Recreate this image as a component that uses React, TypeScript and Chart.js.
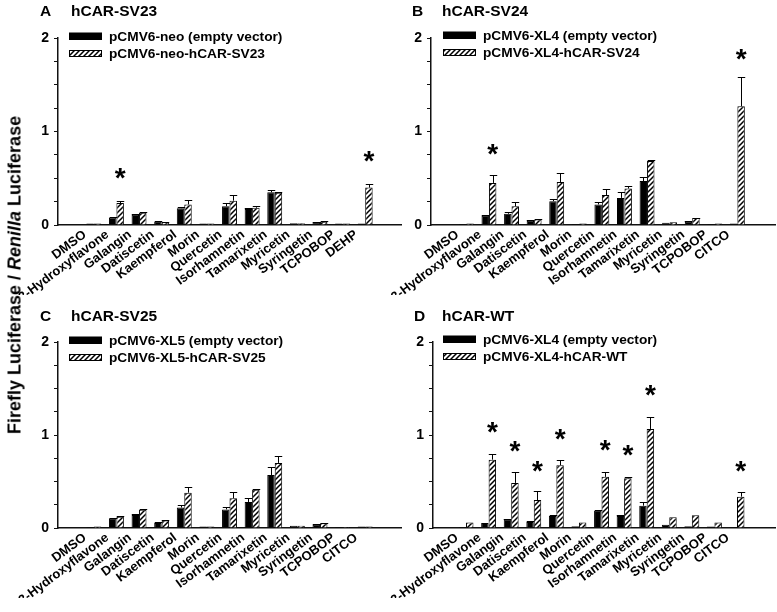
import React, { useEffect, useRef } from 'react';
import { Chart, registerables } from 'chart.js';
Chart.register(...registerables);

const FONT = '"Liberation Sans", Arial, Helvetica, sans-serif';

// ---- categories ----
const labelsA = ['DMSO', '3-Hydroxyflavone', 'Galangin', 'Datiscetin', 'Kaempferol', 'Morin', 'Quercetin', 'Isorhamnetin', 'Tamarixetin', 'Myricetin', 'Syringetin', 'TCPOBOP', 'DEHP'];
const labelsBCD = ['DMSO', '3-Hydroxyflavone', 'Galangin', 'Datiscetin', 'Kaempferol', 'Morin', 'Quercetin', 'Isorhamnetin', 'Tamarixetin', 'Myricetin', 'Syringetin', 'TCPOBOP', 'CITCO'];

// ---- y ticks ----
const yTickValues = [0, 0.25, 0.5, 0.75, 1, 1.25, 1.5, 1.75, 2];
const yTickLabels = [0, 1, 2];

// ---- Panel A: hCAR-SV23 ----
const emptyA = [0.015, 0.08, 0.11, 0.035, 0.18, 0.015, 0.2, 0.17, 0.35, 0.02, 0.03, 0.015, 0.015];
const emptyAErr = [0, 0.01, 0.01, 0.005, 0.01, 0, 0.03, 0.01, 0.02, 0, 0.005, 0, 0];
const carA = [0.015, 0.235, 0.13, 0.03, 0.22, 0.015, 0.26, 0.185, 0.345, 0.02, 0.035, 0.015, 0.4];
const carAErr = [0, 0.02, 0.01, 0.005, 0.045, 0, 0.06, 0.015, 0.01, 0, 0.005, 0, 0.035];
const starsA = [null, 0.55, null, null, null, null, null, null, null, null, null, null, 0.73];

// ---- Panel B: hCAR-SV24 ----
const emptyB = [0.01, 0.1, 0.12, 0.045, 0.255, 0.01, 0.22, 0.29, 0.47, 0.025, 0.035, 0.01, 0.015];
const emptyBErr = [0, 0.01, 0.02, 0.005, 0.02, 0, 0.03, 0.06, 0.04, 0, 0.005, 0, 0];
const carB = [0.015, 0.45, 0.2, 0.06, 0.46, 0.015, 0.32, 0.39, 0.685, 0.03, 0.075, 0.015, 1.27];
const carBErr = [0, 0.08, 0.05, 0.005, 0.1, 0, 0.07, 0.03, 0.01, 0, 0.005, 0, 0.31];
const starsB = [null, 0.81, null, null, null, null, null, null, null, null, null, null, 1.82];

// ---- Panel C: hCAR-SV25 ----
const emptyC = [0.01, 0.105, 0.14, 0.055, 0.22, 0.015, 0.2, 0.28, 0.57, 0.025, 0.035, 0.01, 0.015];
const emptyCErr = [0, 0.005, 0.01, 0.005, 0.03, 0, 0.025, 0.045, 0.09, 0, 0.005, 0, 0];
const carC = [0.015, 0.12, 0.195, 0.08, 0.38, 0.015, 0.32, 0.41, 0.7, 0.025, 0.05, 0.01, 0.015];
const carCErr = [0, 0.005, 0.005, 0.005, 0.06, 0, 0.07, 0.01, 0.07, 0, 0.005, 0, 0];
const starsC = [null, null, null, null, null, null, null, null, null, null, null, null, null];

// ---- Panel D: hCAR-WT ----
const emptyD = [0.01, 0.055, 0.095, 0.065, 0.13, 0.02, 0.185, 0.13, 0.24, 0.036, 0.02, 0.015, 0.01];
const emptyDErr = [0, 0, 0.005, 0.005, 0.005, 0, 0.005, 0.005, 0.04, 0, 0, 0, 0];
const carD = [0.06, 0.735, 0.485, 0.3, 0.675, 0.058, 0.55, 0.535, 1.065, 0.116, 0.138, 0.06, 0.337];
const carDErr = [0, 0.065, 0.115, 0.095, 0.06, 0, 0.055, 0.01, 0.13, 0, 0, 0, 0.05];
const starsD = [null, 1.08, 0.88, 0.66, 1.01, null, 0.89, 0.83, 1.48, null, null, null, 0.66];

type Panel = {
  letter: string; title: string; emptyLabel: string; carLabel: string;
  labels: string[]; empty: number[]; emptyErr: number[]; car: number[]; carErr: number[]; stars: (number | null)[];
  left: number; right: number; top: number; bottom: number; xmin: number; xmax: number;
  letterX: number; titleX: number; titleY: number; legendX: number; legendY: number;
};

const panels: Panel[] = [
  { letter: 'A', title: 'hCAR-SV23', emptyLabel: 'pCMV6-neo (empty vector)', carLabel: 'pCMV6-neo-hCAR-SV23',
    labels: labelsA, empty: emptyA, emptyErr: emptyAErr, car: carA, carErr: carAErr, stars: starsA,
    left: 58, right: 401, top: 38, bottom: 225, xmin: -1, xmax: 13,
    letterX: 40, titleX: 71, titleY: 12, legendX: 69, legendY: 36 },
  { letter: 'B', title: 'hCAR-SV24', emptyLabel: 'pCMV6-XL4 (empty vector)', carLabel: 'pCMV6-XL4-hCAR-SV24',
    labels: labelsBCD, empty: emptyB, emptyErr: emptyBErr, car: carB, carErr: carBErr, stars: starsB,
    left: 431, right: 775, top: 38, bottom: 225, xmin: -0.98, xmax: 13.08,
    letterX: 412, titleX: 442, titleY: 12, legendX: 443, legendY: 35 },
  { letter: 'C', title: 'hCAR-SV25', emptyLabel: 'pCMV6-XL5 (empty vector)', carLabel: 'pCMV6-XL5-hCAR-SV25',
    labels: labelsBCD, empty: emptyC, emptyErr: emptyCErr, car: carC, carErr: carCErr, stars: starsC,
    left: 58, right: 401, top: 342, bottom: 528, xmin: -1, xmax: 13,
    letterX: 40, titleX: 71, titleY: 317, legendX: 69, legendY: 340 },
  { letter: 'D', title: 'hCAR-WT', emptyLabel: 'pCMV6-XL4 (empty vector)', carLabel: 'pCMV6-XL4-hCAR-WT',
    labels: labelsBCD, empty: emptyD, emptyErr: emptyDErr, car: carD, carErr: carDErr, stars: starsD,
    left: 433, right: 775, top: 342, bottom: 528, xmin: -0.88, xmax: 13.1,
    letterX: 414, titleX: 442, titleY: 317, legendX: 443, legendY: 339 },
];

const W = 777;
const H = 612;

function makeHatch(ctx: CanvasRenderingContext2D): CanvasPattern | string {
  const s = 5;
  const c = document.createElement('canvas');
  c.width = s; c.height = s;
  const g = c.getContext('2d');
  if (!g) return '#888';
  g.fillStyle = '#fff';
  g.fillRect(0, 0, s, s);
  g.strokeStyle = '#000';
  g.lineWidth = 1.5;
  g.beginPath();
  g.moveTo(-1, s + 1); g.lineTo(s + 1, -1);
  g.moveTo(-2, 2); g.lineTo(2, -2);
  g.moveTo(s - 2, s + 2); g.lineTo(s + 2, s - 2);
  g.stroke();
  return ctx.createPattern(c, 'repeat') || '#888';
}

function buildChart(canvas: HTMLCanvasElement, p: Panel): Chart {
  const ctx0 = canvas.getContext('2d') as CanvasRenderingContext2D;
  const hatch = makeHatch(ctx0);
  const yW = 40;
  const xH = 70;

  const overlay = {
    id: 'overlay' + p.letter,
    afterDatasetsDraw(chart: any) {
      const ctx: CanvasRenderingContext2D = chart.ctx;
      const ys = chart.scales.y;
      ctx.save();
      // error bars
      ctx.strokeStyle = '#000';
      ctx.lineWidth = 1;
      [0, 1].forEach((di) => {
        const vals = di === 0 ? p.empty : p.car;
        const errs = di === 0 ? p.emptyErr : p.carErr;
        const meta = chart.getDatasetMeta(di);
        meta.data.forEach((bar: any, j: number) => {
          const e = errs[j];
          if (!e) return;
          const x = Math.round(bar.x) + 0.5;
          const y0 = bar.y;
          const y1 = Math.round(ys.getPixelForValue(vals[j] + e)) + 0.5;
          const hw = bar.width / 2;
          ctx.beginPath();
          ctx.moveTo(x, y0); ctx.lineTo(x, y1);
          ctx.moveTo(x - hw, y1); ctx.lineTo(x + hw, y1);
          ctx.stroke();
        });
      });
      // stars
      ctx.fillStyle = '#000';
      ctx.font = `bold 28px ${FONT}`;
      ctx.textAlign = 'center';
      ctx.textBaseline = 'alphabetic';
      const m = ctx.measureText('*');
      const off = (m.actualBoundingBoxAscent - m.actualBoundingBoxDescent) / 2;
      const hm = chart.getDatasetMeta(1);
      p.stars.forEach((s, j) => {
        if (s == null) return;
        const x = hm.data[j].x;
        const y = ys.getPixelForValue(s);
        ctx.fillText('*', x, y + off);
      });
      // panel title
      ctx.font = `bold 15.5px ${FONT}`;
      ctx.textAlign = 'left';
      ctx.textBaseline = 'middle';
      ctx.fillText(p.letter, p.letterX, p.titleY);
      ctx.fillText(p.title, p.titleX, p.titleY);
      // legend
      const rows = [
        { label: p.emptyLabel, fill: '#000' as any },
        { label: p.carLabel, fill: hatch as any },
      ];
      rows.forEach((r, i) => {
        const cy = p.legendY + i * 17.5;
        ctx.fillStyle = r.fill;
        ctx.fillRect(p.legendX, cy - 3.5, 33, 7);
        ctx.strokeStyle = '#000';
        ctx.lineWidth = 1;
        ctx.strokeRect(p.legendX + 0.5, Math.round(cy - 3.5) + 0.5, 32, 6);
        ctx.fillStyle = '#000';
        ctx.font = `bold 13.7px ${FONT}`;
        ctx.textAlign = 'left';
        ctx.textBaseline = 'middle';
        ctx.fillText(r.label, p.legendX + 40, cy + 1);
      });
      ctx.restore();
    },
  };

  return new Chart(canvas, {
    type: 'bar',
    data: {
      datasets: [
        {
          label: p.emptyLabel,
          data: p.empty.map((v, i) => ({ x: i, y: v })),
          backgroundColor: '#000',
          borderColor: '#000',
          borderWidth: 1,
        },
        {
          label: p.carLabel,
          data: p.car.map((v, i) => ({ x: i, y: v })),
          backgroundColor: hatch as any,
          borderColor: '#000',
          borderWidth: 1,
        },
      ],
    } as any,
    options: {
      responsive: false,
      animation: false,
      devicePixelRatio: 1,
      layout: {
        padding: { left: p.left - yW, right: W - p.right, top: p.top, bottom: H - p.bottom - xH },
      },
      plugins: { legend: { display: false }, tooltip: { enabled: false }, title: { display: false } },
      datasets: { bar: { categoryPercentage: 0.66, barPercentage: 1 } },
      scales: {
        x: {
          type: 'linear',
          min: p.xmin,
          max: p.xmax,
          afterFit: (s: any) => { s.height = xH; },
          afterBuildTicks: (s: any) => { s.ticks = p.labels.map((_, i) => ({ value: i })); },
          grid: { display: true, drawOnChartArea: false, drawTicks: false, color: 'rgba(0,0,0,0)' },
          border: { display: true, color: '#111', width: 1.5 },
          ticks: {
            autoSkip: false,
            minRotation: 37,
            maxRotation: 37,
            padding: 2,
            labelOffset: -9,
            color: '#000',
            font: { family: FONT, weight: 'bold', size: 13 },
            callback: (v: any) => p.labels[v as number] ?? '',
          },
        },
        y: {
          min: 0,
          max: 2,
          afterFit: (s: any) => { s.width = yW; },
          afterBuildTicks: (s: any) => { s.ticks = yTickValues.map((v) => ({ value: v })); },
          grid: { display: true, drawOnChartArea: false, drawTicks: true, tickLength: 4, color: '#111' },
          border: { display: true, color: '#111', width: 1.5 },
          ticks: {
            padding: 5,
            color: '#000',
            font: { family: FONT, weight: 'bold', size: 14 },
            callback: (v: any) => (yTickLabels.includes(v as number) ? String(v) : ''),
          },
        },
      },
    } as any,
    plugins: [overlay],
  });
}

export default function App() {
  const refs = [useRef<HTMLCanvasElement>(null), useRef<HTMLCanvasElement>(null), useRef<HTMLCanvasElement>(null), useRef<HTMLCanvasElement>(null)];

  useEffect(() => {
    const charts: Chart[] = [];
    panels.forEach((p, i) => {
      const c = refs[i].current;
      if (c) charts.push(buildChart(c, p));
    });
    return () => { charts.forEach((c) => c.destroy()); };
  }, []);

  return (
    <div style={{ position: 'fixed', left: 0, top: 0, width: W, height: H, background: '#fff', overflow: 'hidden' }}>
      {panels.map((p, i) => (
        <canvas key={p.letter} ref={refs[i]} width={W} height={H}
          style={{ position: 'absolute', left: 0, top: 0, width: W, height: H }} />
      ))}
      <div style={{
        position: 'absolute', left: 15, top: 275, transform: 'translate(-50%, -50%) rotate(-90deg)',
        whiteSpace: 'nowrap', fontFamily: FONT, fontWeight: 'bold', fontSize: 18, color: '#000',
      }}>
        Firefly Luciferase / <i>Renilla</i> Luciferase
      </div>
    </div>
  );
}
